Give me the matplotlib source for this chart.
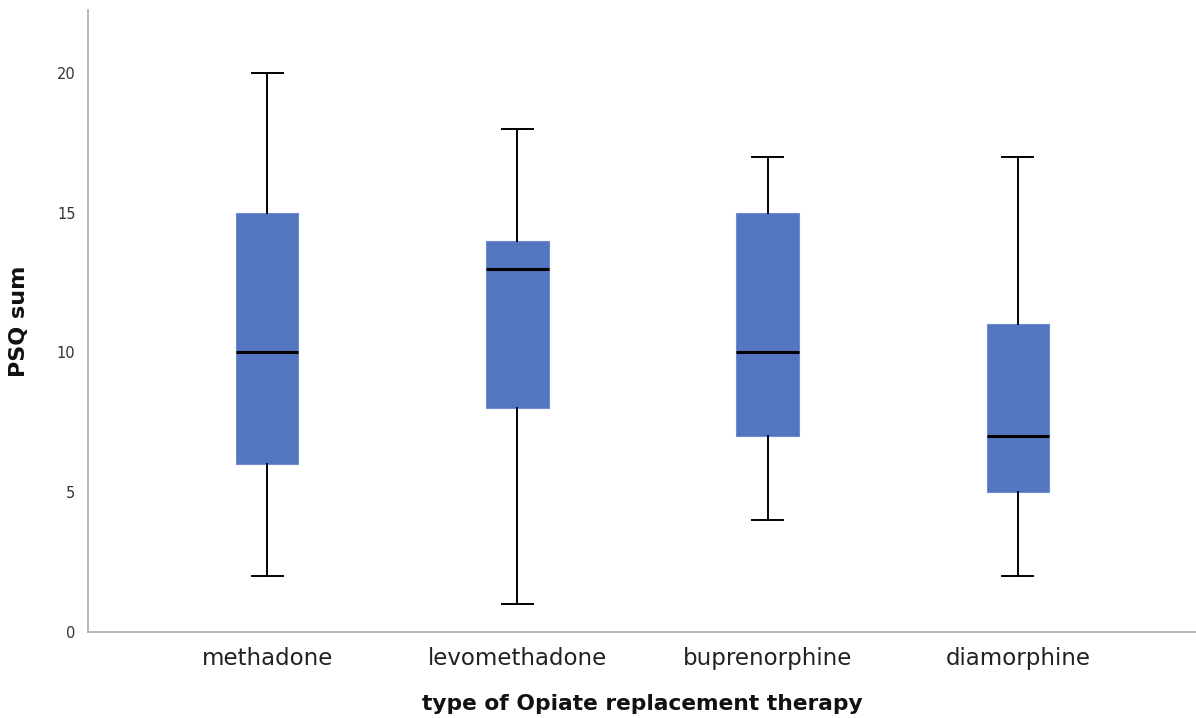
import matplotlib
matplotlib.use("Agg")
import matplotlib.pyplot as plt

categories = ["methadone", "levomethadone", "buprenorphine", "diamorphine"]
whislo = [2, 1, 4, 2]
q1 = [6, 8, 7, 5]
med = [10, 13, 10, 7]
q3 = [15, 14, 15, 11]
whishi = [20, 18, 17, 17]
yticks = [0, 5, 10, 15, 20]

plt.rcParams['font.family'] = ['DejaVu Sans']

fig = plt.figure(figsize=(11.96, 7.18), dpi=100)
ax = fig.add_axes([88/1196, 86/718, 1 - 88/1196, (632-10)/718])

stats = []
for i, c in enumerate(categories):
    stats.append(dict(label=c, whislo=whislo[i], q1=q1[i], med=med[i], q3=q3[i], whishi=whishi[i], fliers=[]))

ax.bxp(stats, positions=range(len(categories)), widths=0.25, patch_artist=True,
       showfliers=False,
       boxprops=dict(facecolor='#5475BF', edgecolor='#6F8CD0', linewidth=0.8),
       medianprops=dict(color='black', linewidth=2.2),
       whiskerprops=dict(color='black', linewidth=1.4),
       capprops=dict(color='black', linewidth=1.4),
       capwidths=0.125)

ax.set_xlim(-0.716, 3.712)
ax.set_ylim(0, 22.25)
ax.set_yticks(yticks)
ax.set_yticklabels([str(t) for t in yticks], fontsize=10.5, color='#333333')
ax.set_xticks(range(len(categories)))
ax.set_xticklabels(categories, fontsize=16.5, color='#222222')
ax.tick_params(axis='both', length=0)
ax.tick_params(axis='y', pad=9)
ax.tick_params(axis='x', pad=11)
for s in ['top', 'right']:
    ax.spines[s].set_visible(False)
for s in ['left', 'bottom']:
    ax.spines[s].set_color('#aaaaaa')
    ax.spines[s].set_linewidth(1.2)

ax.set_xlabel("type of Opiate replacement therapy", fontsize=15.7, fontweight='bold', labelpad=17, color='#111111')
ax.set_ylabel("PSQ sum", fontsize=16, fontweight='bold', labelpad=20, color='#111111')

fig.savefig("out.png", dpi=100)
